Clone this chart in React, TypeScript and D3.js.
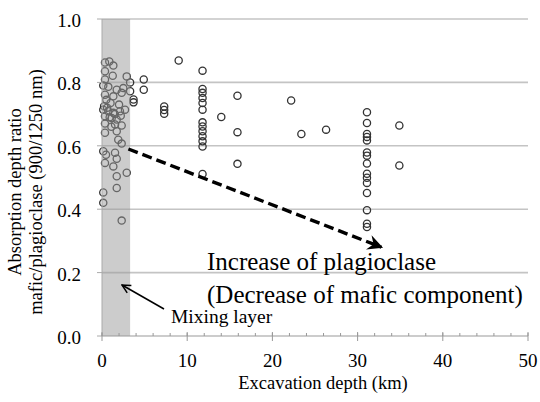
import * as d3 from 'd3';
import { useEffect, useRef } from 'react';

// excavation depth (km) and absorption depth ratio
const depthKm = [
  0.35, 0.86, 1.33, 0.35, 1.26, 0.35, 2.9, 0.15, 0.74, 1.73, 2.5, 0.35, 1.33, 2.31,
  0.15, 0.74, 1.33, 2.11, 2.7, 0.35, 1.14, 1.73, 0.35, 1.53, 2.31, 0.35, 1.73, 1.91,
  2.31, 0.15, 0.47, 1.53, 1.73, 0.35, 1.33, 2.9, 1.73, 0.15, 1.73, 0.15, 2.31,
  0.6, 1.0, 0.5, 2.0, 0.9, 1.5, 0.25, 2.2, 1.1,
  3.3, 3.3, 3.7, 3.7, 4.9, 4.9, 7.3, 7.3, 7.3,
  9.0, 11.8, 11.8, 11.8, 11.8, 11.8, 11.8, 11.8, 11.8, 11.8, 11.8, 11.8, 11.8, 11.8,
  14.0, 15.9, 15.9, 15.9, 22.2, 23.4, 26.3, 34.9, 34.9,
  31.1, 31.1, 31.1, 31.1, 31.1, 31.1, 31.1, 31.1, 31.1, 31.1, 31.1, 31.1, 31.1, 31.1, 31.1,
];
const depthRatio = [
  0.863, 0.866, 0.853, 0.835, 0.821, 0.809, 0.819, 0.79, 0.786, 0.777, 0.782, 0.761, 0.756, 0.767,
  0.714, 0.709, 0.704, 0.709, 0.714, 0.693, 0.688, 0.683, 0.67, 0.667, 0.664, 0.641, 0.646, 0.619,
  0.607, 0.583, 0.572, 0.578, 0.559, 0.546, 0.535, 0.515, 0.504, 0.453, 0.467, 0.42, 0.364,
  0.72, 0.735, 0.745, 0.73, 0.69, 0.7, 0.725, 0.695, 0.66,
  0.8, 0.772, 0.746, 0.737, 0.809, 0.777, 0.724, 0.713, 0.701,
  0.869, 0.837, 0.779, 0.767, 0.751, 0.735, 0.714, 0.674, 0.661, 0.646, 0.63, 0.614, 0.598, 0.511,
  0.691, 0.758, 0.643, 0.543, 0.743, 0.637, 0.651, 0.664, 0.538,
  0.706, 0.672, 0.637, 0.628, 0.617, 0.579, 0.569, 0.544, 0.512, 0.499, 0.483, 0.451, 0.397, 0.354, 0.344,
];

const xTicks = [0, 10, 20, 30, 40, 50];
const yTicks = [0, 0.2, 0.4, 0.6, 0.8, 1.0];
const mixingLayer = [0, 3.3];
// trend arrow: start and end in data units
const trendX = [3.1, 32.8];
const trendY = [0.59, 0.28];

export default function App() {
  const ref = useRef<SVGSVGElement>(null);

  const width = 540;
  const height = 402;
  const margin = { top: 19, right: 12, bottom: 66, left: 102 };

  useEffect(() => {
    const svg = d3.select(ref.current);
    svg.selectAll('*').remove();

    const x = d3.scaleLinear().domain([0, 50]).range([margin.left, width - margin.right]);
    const y = d3.scaleLinear().domain([0, 1]).range([height - margin.bottom, margin.top]);
    const font = '"Liberation Serif", "Times New Roman", serif';

    // gridlines
    svg.append('g')
      .selectAll('line')
      .data(yTicks.slice(1))
      .enter()
      .append('line')
      .attr('x1', x(0))
      .attr('x2', x(50))
      .attr('y1', (d) => y(d))
      .attr('y2', (d) => y(d))
      .attr('stroke', '#c4c4c4')
      .attr('stroke-width', 1.6);

    // data points
    const pts = depthKm.map((d, i) => [d, depthRatio[i]]);
    svg.append('g')
      .selectAll('circle')
      .data(pts)
      .enter()
      .append('circle')
      .attr('cx', (d) => x(d[0]))
      .attr('cy', (d) => y(d[1]))
      .attr('r', 3.6)
      .attr('fill', 'none')
      .attr('stroke', '#333')
      .attr('stroke-width', 1.3);

    // mixing layer band laid over the points
    svg.append('rect')
      .attr('x', x(mixingLayer[0]))
      .attr('y', y(1))
      .attr('width', x(mixingLayer[1]) - x(mixingLayer[0]))
      .attr('height', y(0) - y(1))
      .attr('fill', '#999')
      .attr('opacity', 0.5);

    // y axis ticks + labels
    const yAxis = svg.append('g');
    yAxis.append('line')
      .attr('x1', x(0)).attr('x2', x(0))
      .attr('y1', y(0)).attr('y2', y(1))
      .attr('stroke', '#aaa');
    yAxis.selectAll('.tk')
      .data(yTicks)
      .enter()
      .append('line')
      .attr('x1', x(0) - 5).attr('x2', x(0))
      .attr('y1', (d) => y(d)).attr('y2', (d) => y(d))
      .attr('stroke', '#aaa');
    yAxis.selectAll('text')
      .data(yTicks)
      .enter()
      .append('text')
      .attr('x', x(0) - 21)
      .attr('y', (d) => y(d) + 8)
      .attr('text-anchor', 'end')
      .style('font-family', font)
      .style('font-size', '19px')
      .text((d) => d3.format('.1f')(d));

    // x axis
    const xAxis = svg.append('g');
    xAxis.append('line')
      .attr('x1', x(0)).attr('x2', x(50))
      .attr('y1', y(0)).attr('y2', y(0))
      .attr('stroke', '#999')
      .attr('stroke-width', 1.2);
    xAxis.selectAll('.minor')
      .data(d3.range(0, 51, 2))
      .enter()
      .append('line')
      .attr('x1', (d) => x(d)).attr('x2', (d) => x(d))
      .attr('y1', y(0) - 3).attr('y2', y(0))
      .attr('stroke', '#999');
    xAxis.selectAll('.major')
      .data(xTicks)
      .enter()
      .append('line')
      .attr('x1', (d) => x(d)).attr('x2', (d) => x(d))
      .attr('y1', y(0) - 4).attr('y2', y(0) + 5)
      .attr('stroke', '#999');
    xAxis.selectAll('text')
      .data(xTicks)
      .enter()
      .append('text')
      .attr('x', (d) => x(d))
      .attr('y', y(0) + 31)
      .attr('text-anchor', 'middle')
      .style('font-family', font)
      .style('font-size', '19px')
      .text((d) => d);

    svg.append('text')
      .attr('x', 323)
      .attr('y', height - 13)
      .attr('text-anchor', 'middle')
      .style('font-family', font)
      .style('font-size', '18.5px')
      .text('Excavation depth (km)');

    // y title, two lines
    const yTitle = svg.append('text')
      .attr('transform', `translate(21, 192) rotate(-90)`)
      .attr('text-anchor', 'middle')
      .style('font-family', font)
      .style('font-size', '18.5px');
    yTitle.append('tspan').attr('x', 0).attr('dy', 0).text('Absorption depth ratio');
    yTitle.append('tspan').attr('x', 0).attr('dy', 21).text('mafic/plagioclase (900/1250 nm)');

    // arrow markers
    const defs = svg.append('defs');
    defs.append('marker')
      .attr('id', 'bigHead')
      .attr('viewBox', '0 0 10 10')
      .attr('refX', 8)
      .attr('refY', 5)
      .attr('markerWidth', 5)
      .attr('markerHeight', 5)
      .attr('markerUnits', 'strokeWidth')
      .attr('orient', 'auto')
      .append('path')
      .attr('d', 'M0,0.5 L9,5 L0,9.5 L3,5 Z')
      .attr('fill', '#000');
    defs.append('marker')
      .attr('id', 'smallHead')
      .attr('viewBox', '0 0 10 10')
      .attr('refX', 9)
      .attr('refY', 5)
      .attr('markerWidth', 7)
      .attr('markerHeight', 7)
      .attr('markerUnits', 'strokeWidth')
      .attr('orient', 'auto')
      .append('path')
      .attr('d', 'M1,1 L9,5 L1,9')
      .attr('fill', 'none')
      .attr('stroke', '#000')
      .attr('stroke-width', 1.4);

    // trend arrow
    svg.append('line')
      .attr('x1', x(trendX[0])).attr('y1', y(trendY[0]))
      .attr('x2', x(trendX[1])).attr('y2', y(trendY[1]))
      .attr('stroke', '#000')
      .attr('stroke-width', 3.4)
      .attr('stroke-dasharray', '10 5')
      .attr('marker-end', 'url(#bigHead)');

    svg.append('text')
      .attr('x', 207)
      .attr('y', 270)
      .style('font-family', font)
      .style('font-size', '25px')
      .text('Increase of plagioclase');
    svg.append('text')
      .attr('x', 207)
      .attr('y', 303)
      .style('font-family', font)
      .style('font-size', '25px')
      .text('(Decrease of mafic component)');

    // mixing layer label + pointer
    svg.append('line')
      .attr('x1', 164).attr('y1', 309)
      .attr('x2', 122).attr('y2', 285)
      .attr('stroke', '#000')
      .attr('stroke-width', 1.5)
      .attr('marker-end', 'url(#smallHead)');
    svg.append('text')
      .attr('x', 171)
      .attr('y', 323)
      .style('font-family', font)
      .style('font-size', '19.5px')
      .text('Mixing layer');
  }, []);

  return (
    <svg
      ref={ref}
      width={width}
      height={height}
      style={{ position: 'absolute', left: 0, top: 0, background: '#fff' }}
    />
  );
}
